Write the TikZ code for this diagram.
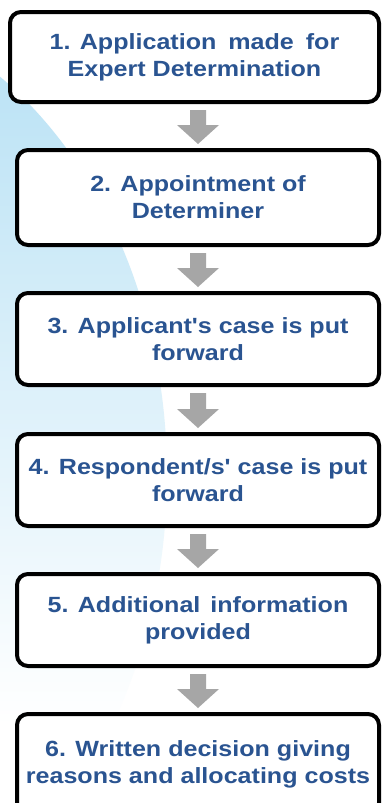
\documentclass[tikz,border=0pt]{standalone}
\usepackage{fontspec}
\newfontfamily\boxfont{Liberation Sans}[FakeStretch=1.14]
\usetikzlibrary{calc}
\definecolor{txtblue}{RGB}{42,84,145}
\definecolor{arrgray}{RGB}{166,166,166}
\definecolor{skyA}{RGB}{186,226,245}
\definecolor{skyB}{RGB}{212,236,249}
\tikzset{
  stepbox/.style={draw=black, line width=4pt, rounded corners=11pt, fill=white,
    align=center, text=txtblue, font=\boxfont\bfseries\fontsize{22}{27}\selectfont,
    inner sep=0pt, minimum width=362pt, minimum height=92pt},
  flowarrow/.style={fill=arrgray}
}
\newcommand{\flowarr}[2]{%
  \fill[flowarrow] let \p1=($(#2.north |- #1.south)+(0,6)$), \p2=($(#2.north)+(0,-4)$) in
    (\x1-8pt,\y1) -- (\x1+8pt,\y1) -- (\x1+8pt,\y2+19pt) -- (\x1+21pt,\y2+19pt)
    -- (\x2,\y2) -- (\x1-21pt,\y2+19pt) -- (\x1-8pt,\y2+19pt) -- cycle;}
\begin{document}
\begin{tikzpicture}[x=1pt,y=-1pt]
\useasboundingbox (0,0) rectangle (382,803);
\clip (0,0) rectangle (382,803);
\fill[white] (0,0) rectangle (382,803);
% background swoosh
\begin{scope}
  \clip (-200,475) ellipse [x radius=367, y radius=475];
  \shade[top color=skyA, middle color=skyB, bottom color=white] (0,55) rectangle (220,725);
\end{scope}
% boxes
\node[stepbox, minimum width=369pt, minimum height=90pt] (b1) at (194.5,57)
  {1. Application\hspace{5pt} made\hspace{5pt} for\\Expert Determination};
\node[stepbox, minimum height=95pt] (b2) at (198,197.5) {2. Appointment of\\Determiner};
\node[stepbox] (b3) at (198,339) {3. Applicant's case is put\\forward};
\node[stepbox] (b4) at (198,480) {4. Respondent/s' case is put\\forward};
\node[stepbox] (b5) at (198,620) {5. Additional\hspace{3pt} information\\provided};
\node[stepbox, minimum height=100pt] (b6) at (198,764) {6. Written decision giving\\reasons and allocating costs};
% arrows
\flowarr{b1}{b2}
\flowarr{b2}{b3}
\flowarr{b3}{b4}
\flowarr{b4}{b5}
\flowarr{b5}{b6}
\end{tikzpicture}
\end{document}
